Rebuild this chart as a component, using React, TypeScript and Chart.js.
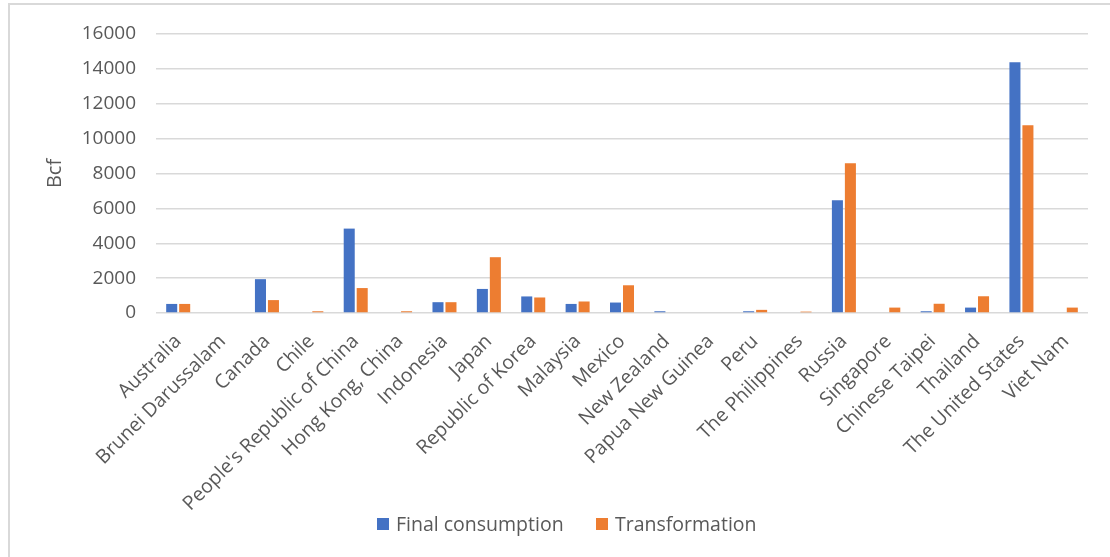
import React, { useEffect, useRef } from "react";
import { Chart, registerables } from "chart.js";

Chart.register(...registerables);

const categories = [
  "Australia",
  "Brunei Darussalam",
  "Canada",
  "Chile",
  "People's Republic of China",
  "Hong Kong, China",
  "Indonesia",
  "Japan",
  "Republic of Korea",
  "Malaysia",
  "Mexico",
  "New Zealand",
  "Papua New Guinea",
  "Peru",
  "The Philippines",
  "Russia",
  "Singapore",
  "Chinese Taipei",
  "Thailand",
  "The United States",
  "Viet Nam",
];

const finalConsumption = [
  520, 0, 1940, 0, 4840, 0, 620, 1380, 950, 520, 600, 100, 0, 100, 0, 6470, 0, 100, 310, 14380, 0,
];

const transformation = [
  520, 0, 740, 100, 1430, 100, 620, 3200, 890, 660, 1590, 0, 0, 180, 80, 8590, 310, 530, 960, 10770, 310,
];

const yTicks = [0, 2000, 4000, 6000, 8000, 10000, 12000, 14000, 16000];

const seriesNames = ["Final consumption", "Transformation"];
const seriesColors = ["#4472C4", "#ED7D31"];

const FONT = "'Open Sans', sans-serif";
const TEXT = "#595959";
const GRID = "#D9D9D9";

export default function App() {
  const canvasRef = useRef<HTMLCanvasElement | null>(null);

  useEffect(() => {
    const canvas = canvasRef.current;
    if (!canvas) return;
    const chart = new Chart(canvas, {
      type: "bar",
      data: {
        labels: categories,
        datasets: [
          {
            label: seriesNames[0],
            data: finalConsumption,
            backgroundColor: seriesColors[0],
            categoryPercentage: 0.585,
            barPercentage: 0.85,
          },
          {
            label: seriesNames[1],
            data: transformation,
            backgroundColor: seriesColors[1],
            categoryPercentage: 0.585,
            barPercentage: 0.85,
          },
        ],
      },
      options: {
        animation: false,
        responsive: false,
        maintainAspectRatio: false,
        layout: { padding: { left: 39, top: 34, right: 22, bottom: 0 } },
        plugins: {
          legend: { display: false },
          tooltip: { enabled: false },
        },
        scales: {
          x: {
            grid: { display: false },
            border: { display: false },
            ticks: {
              color: TEXT,
              font: { family: FONT, size: 19.5 },
              maxRotation: 45,
              minRotation: 45,
              autoSkip: false,
              padding: 9,
            },
            afterFit: (scale: any) => {
              scale.height = 557 - 313;
            },
          },
          y: {
            min: 0,
            max: 16000,
            afterBuildTicks: (scale: any) => {
              scale.ticks = yTicks.map((v) => ({ value: v }));
            },
            grid: { color: GRID, lineWidth: 1.5, drawTicks: false },
            border: { display: false },
            ticks: {
              color: TEXT,
              font: { family: FONT, size: 19 },
              padding: 20,
              callback: (value: any) => String(value),
            },
            title: {
              display: true,
              text: "Bcf",
              color: TEXT,
              font: { family: FONT, size: 20 },
              padding: { top: 4, bottom: 4 },
            },
            afterFit: (scale: any) => {
              scale.width = 156 - 39;
            },
          },
        },
      },
    });
    return () => chart.destroy();
  }, []);

  const legendItem = (i: number, left: number) => (
    <div
      key={i}
      style={{
        position: "absolute",
        left,
        top: 510,
        display: "flex",
        alignItems: "center",
        fontFamily: FONT,
        fontSize: 19.5,
        color: TEXT,
        whiteSpace: "nowrap",
      }}
    >
      <span
        style={{
          display: "inline-block",
          width: 12,
          height: 12,
          background: seriesColors[i],
          marginRight: 7,
        }}
      />
      {seriesNames[i]}
    </div>
  );

  return (
    <div
      style={{
        position: "fixed",
        left: 0,
        top: 0,
        width: 1110,
        height: 557,
        background: "#fff",
        overflow: "hidden",
      }}
    >
      <div
        style={{
          position: "absolute",
          left: 8,
          top: 3,
          width: 1110,
          height: 560,
          borderLeft: "2px solid #D9D9D9",
          borderTop: "2px solid #D9D9D9",
          boxSizing: "border-box",
        }}
      />
      <canvas
        ref={canvasRef}
        width={1110}
        height={557}
        style={{ position: "absolute", left: 0, top: 0, width: 1110, height: 557 }}
      />
      {legendItem(0, 377)}
      {legendItem(1, 596)}
    </div>
  );
}
